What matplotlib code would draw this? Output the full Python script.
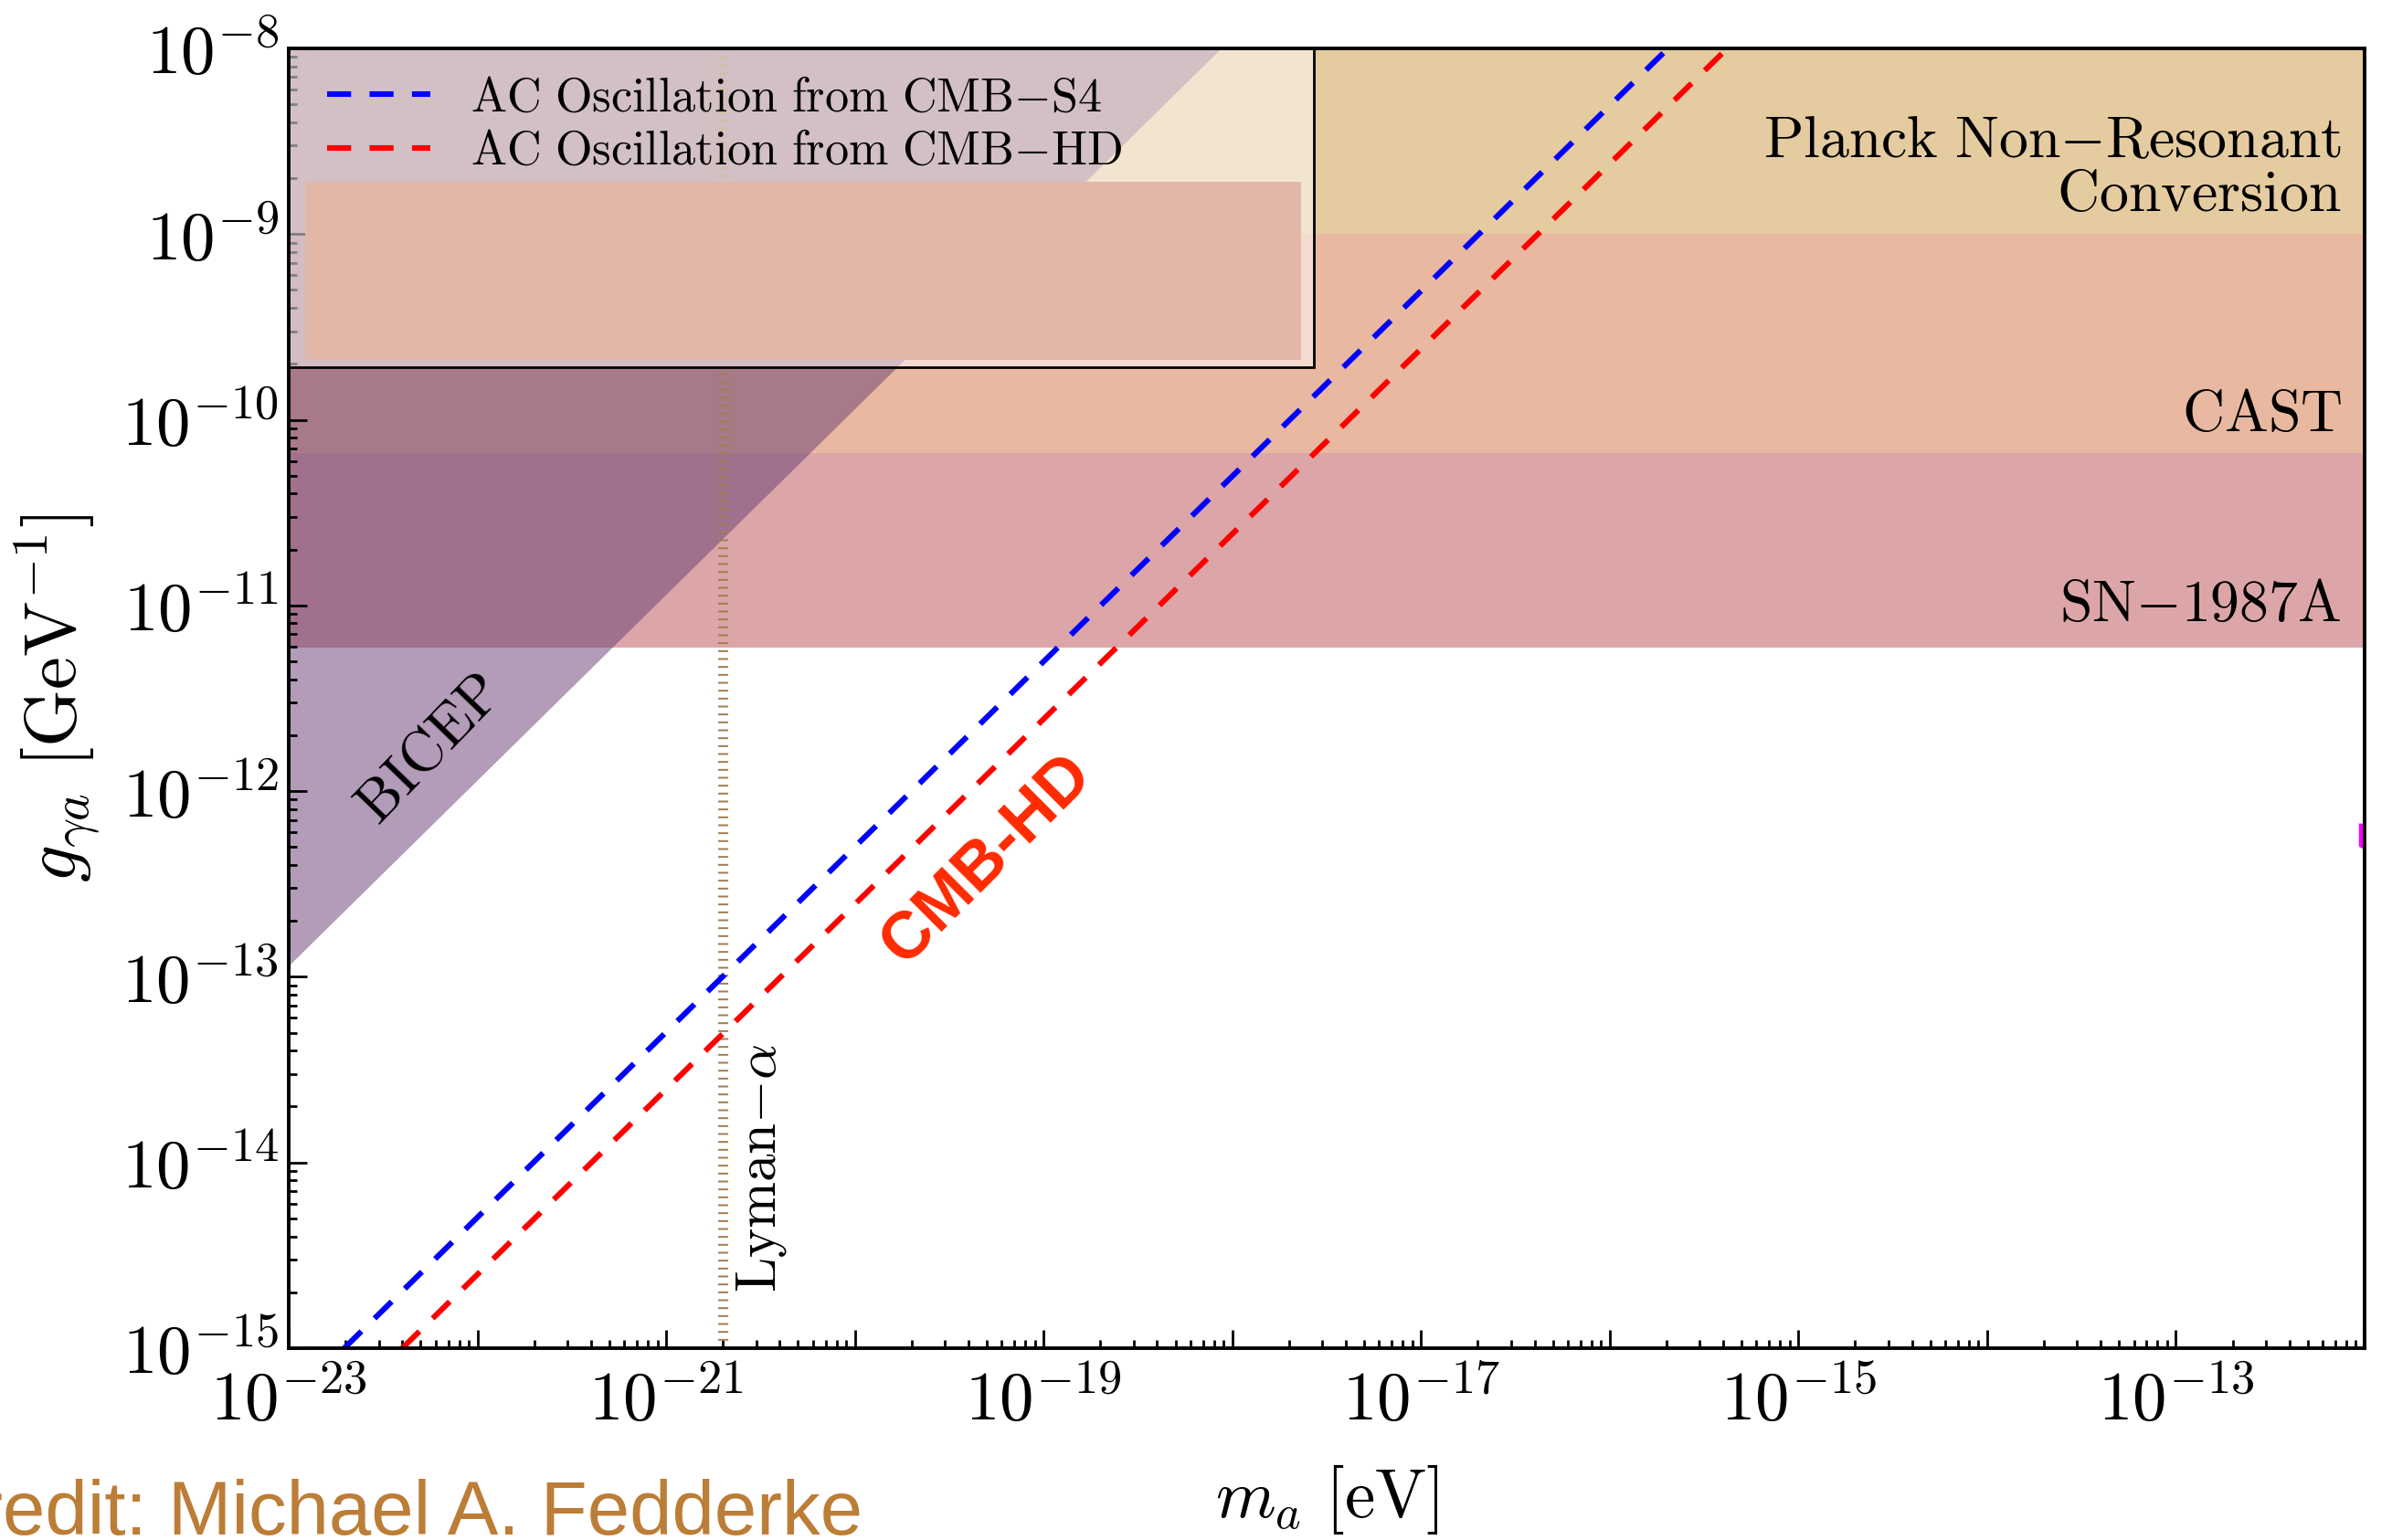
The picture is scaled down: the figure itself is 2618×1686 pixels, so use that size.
import numpy as np
import matplotlib
matplotlib.use("Agg")
import matplotlib.pyplot as plt
import matplotlib.transforms as mtransforms
from matplotlib.patches import Rectangle
from matplotlib.ticker import FixedLocator, LogLocator, FuncFormatter, NullFormatter

plt.rcParams['mathtext.fontset'] = 'cm'
plt.rcParams['font.family'] = ['DejaVu Serif']

# ---------------- data ----------------
m_range = [1e-23, 1e-12]          # eV
g_range = [1e-15, 1e-8]           # GeV^-1

planck_g = [1.0e-9, 1e-8]         # Planck non-resonant conversion
cast_g = [6.6e-11, 1e-8]          # CAST
sn_g = [5.9e-12, 1e-8]            # SN-1987A

bicep_m = [1e-23, 8.7e-19]
bicep_g = [1.15e-13, 1e-8]

s4_m = [1.97e-23, 2.04e-16]
s4_g = [1e-15, 1e-8]
hd_m = [4.0e-23, 4.2e-16]
hd_g = [1e-15, 1e-8]

lyman_m = [2.0e-21, 2.0e-21]
lyman_g = [1e-15, 1e-8]

edge_m = [9.6e-13, 9.6e-13, 1e-12]
edge_g = [6.5e-13, 5.1e-13, 5.0e-13]

x_major_exp = list(range(-23, -11))
x_label_exp = [-23, -21, -19, -17, -15, -13]
y_major_exp = list(range(-15, -7))

legend_labels = [r'$\mathrm{AC\ Oscillation\ from\ CMB{-}S4}$',
                 r'$\mathrm{AC\ Oscillation\ from\ CMB{-}HD}$']

# ---------------- figure ----------------
fig = plt.figure(figsize=(13.09, 8.43), dpi=200)
ax = fig.add_axes([0.1207, 0.1246, 0.9885 - 0.1207, 0.9686 - 0.1246])
ax.set_xscale('log')
ax.set_yscale('log')
ax.set_xlim(m_range)
ax.set_ylim(g_range)

# bands
ax.axhspan(sn_g[0], sn_g[1], color='#DCA6A8', lw=0, zorder=0.5)
ax.axhspan(cast_g[0], cast_g[1], color='#E8B9A0', lw=0, zorder=0.6)
ax.axhspan(planck_g[0], planck_g[1], color='#E5CBA0', lw=0, zorder=0.7)

# BICEP
ax.fill_between(bicep_m, bicep_g, g_range[1], color='#673B73', alpha=0.5,
                lw=0, zorder=0.9)

# Lyman-alpha
ax.plot(lyman_m, lyman_g, color='#A57E52', lw=4.0, dashes=(0.18, 0.6),
        zorder=1.8)

# AC oscillation lines
ax.plot(s4_m, s4_g, color='#0000FF', lw=2.2, dashes=(4.3, 3.3),
        label=legend_labels[0], zorder=2)
ax.plot(hd_m, hd_g, color='#FF0000', lw=2.2, dashes=(4.3, 3.3),
        label=legend_labels[1], zorder=2)

ax.plot(edge_m, edge_g, color='#FF00FF', lw=1.8, zorder=2)

# legend frame + inner patch (axes coords)
ax.add_patch(Rectangle((0, 0.7547), 0.494, 1 - 0.7547, transform=ax.transAxes,
                       facecolor=(1, 1, 1, 0.5), edgecolor='black', lw=1.0,
                       zorder=5, clip_on=False))
ax.add_patch(Rectangle((0.0079, 0.7604), 0.4877 - 0.0079, 0.8974 - 0.7604,
                       transform=ax.transAxes, facecolor='#E2B7A7',
                       edgecolor='none', zorder=5.1))
leg = ax.legend(loc='upper left', bbox_to_anchor=(0.006, 1.0), borderaxespad=0,
                frameon=False, fontsize=18.8, handlelength=2.15,
                handletextpad=0.85, borderpad=0.55, labelspacing=0.14)
leg.set_zorder(6)

# ticks
ax.xaxis.set_major_locator(FixedLocator([10.0 ** e for e in x_major_exp]))
ax.xaxis.set_major_formatter(FuncFormatter(
    lambda v, p: (r'$10^{%d}$' % int(round(np.log10(v))))
    if int(round(np.log10(v))) in x_label_exp else ''))
ax.xaxis.set_minor_locator(LogLocator(base=10, subs=np.arange(2, 10), numticks=200))
ax.xaxis.set_minor_formatter(NullFormatter())
ax.yaxis.set_major_locator(FixedLocator([10.0 ** e for e in y_major_exp]))
ax.yaxis.set_major_formatter(FuncFormatter(
    lambda v, p: r'$10^{%d}$' % int(round(np.log10(v)))))
ax.yaxis.set_minor_locator(LogLocator(base=10, subs=np.arange(2, 10), numticks=200))
ax.yaxis.set_minor_formatter(NullFormatter())

ax.tick_params(which='both', direction='in', top=False, right=False,
               width=1.0, labelsize=27)
ax.tick_params(which='major', length=7.2)
ax.tick_params(which='minor', length=3.4)
ax.tick_params(axis='x', which='major', pad=8)
ax.tick_params(axis='y', which='major', pad=4)
for s in ax.spines.values():
    s.set_linewidth(1.4)

ax.set_xlabel(r'$m_a\ [\mathrm{eV}]$', fontsize=27, labelpad=11)
ax.set_ylabel(r'$g_{\gamma a}\ [\mathrm{GeV}^{-1}]$', fontsize=29, labelpad=8)

# annotations
trans = mtransforms.blended_transform_factory(ax.transAxes, ax.transData)
ax.text(0.989, 10 ** -8.5, r'$\mathrm{Planck\ Non{-}Resonant}$', transform=trans,
        ha='right', va='center', fontsize=23, zorder=7)
ax.text(0.989, 10 ** -8.79, r'$\mathrm{Conversion}$', transform=trans,
        ha='right', va='center', fontsize=23, zorder=7)
ax.text(0.989, 10 ** -9.975, r'$\mathrm{CAST}$', transform=trans,
        ha='right', va='center', fontsize=23, zorder=7)
ax.text(0.989, 10 ** -11.0, r'$\mathrm{SN{-}1987A}$', transform=trans,
        ha='right', va='center', fontsize=23, zorder=7)
ax.text(5.6e-23, 1.66e-12, r'$\mathrm{BICEP}$', rotation=46,
        ha='center', va='center', fontsize=23, zorder=7, rotation_mode='anchor')
ax.text(5.0e-20, 4.3e-13, 'CMB-HD', rotation=45, ha='center', va='center',
        fontsize=26, fontweight='bold', color='#FF2A00',
        family='Liberation Sans', zorder=7, rotation_mode='anchor')
ax.text(3.2e-21, 10 ** -14.03, r'$\mathrm{Lyman}{-}\alpha$', rotation=90,
        ha='center', va='center', fontsize=22, zorder=7, rotation_mode='anchor')

fig.text(0.3605, 0.0166, 'Credit: Michael A. Fedderke', ha='right', va='center',
         fontsize=30, color='#BC7D37', family='Liberation Sans')

fig.savefig('out.png', dpi=200)
